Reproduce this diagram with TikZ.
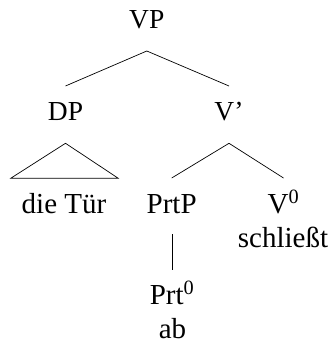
\documentclass[tikz,border=0pt]{standalone}
\usepackage{fontspec}
\setmainfont{Liberation Serif}
\begin{document}
\begin{tikzpicture}[x=1pt,y=-1pt,
  upper/.style={inner sep=0pt,anchor=base,font=\fontsize{27.5}{33}\selectfont},
  lower/.style={inner sep=0pt,anchor=base,font=\fontsize{29}{35}\selectfont},
  branch/.style={line width=0.7pt,line cap=butt}]
\useasboundingbox (0,0) rectangle (332,344);
% nodes
\node[upper] (vp) at (146.8,29) {VP};
\node[upper] (dp) at (65.5,120.7) {DP};
\node[upper] (vbar) at (229,120.7) {V’};
\node[lower] (dietuer) at (64,213) {die Tür};
\node[lower] (prtp) at (171.7,213) {PrtP};
\node[lower] (v0) at (283.5,213) {V\textsuperscript{0}};
\node[lower] (schliesst) at (283,247) {schließt};
\node[lower] (prt0) at (172,304) {Prt\textsuperscript{0}};
\node[lower] (ab) at (172.5,338.5) {ab};
\coordinate (prtbot) at (prtp.base |- prt0.base);
% connectors
\draw[branch] ([yshift=-22pt]vp.base) -- ([yshift=34.7pt]dp.base);
\draw[branch] ([yshift=-22pt]vp.base) -- ([yshift=34.7pt]vbar.base);
\draw[branch] ([yshift=-22.6pt]dp.base) -- ([xshift=-53.3pt,yshift=34.7pt]dietuer.base)
  -- ([xshift=54.3pt,yshift=34.7pt]dietuer.base) -- cycle;
\draw[branch] ([yshift=-22.6pt]vbar.base) -- ([yshift=35pt]prtp.base);
\draw[branch] ([yshift=-22.6pt]vbar.base) -- ([yshift=35pt]v0.base);
\draw[branch] ([xshift=1pt,yshift=-21pt]prtp.base) -- ([xshift=1pt,yshift=34pt]prtbot);
\end{tikzpicture}
\end{document}
